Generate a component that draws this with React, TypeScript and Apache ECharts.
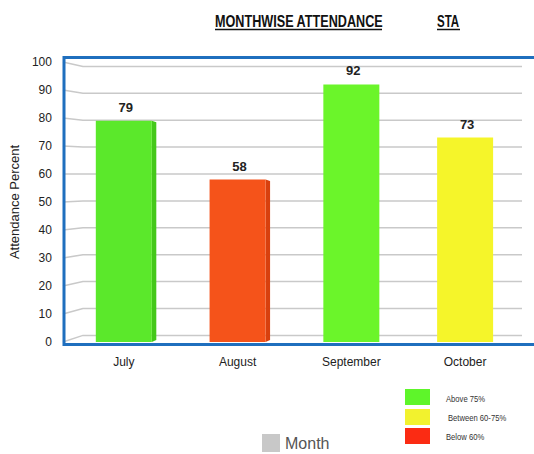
import React, { useEffect, useRef } from 'react';
import * as echarts from 'echarts';

const months = ['July', 'August', 'September', 'October'];
const attendance = [79, 58, 92, 73];
const yTicks = [0, 10, 20, 30, 40, 50, 60, 70, 80, 90, 100];
const keyLabels = ['Above 75%', 'Between 60-75%', 'Below 60%'];
const titleText = 'MONTHWISE ATTENDANCE';
const subTitleText = 'STA';
const seriesName = 'Month';
const yAxisName = 'Attendance Percent';

const barFront = ['#5be82b', '#f5531a', '#6bf52a', '#f5f52a'];
const barSide = ['#44c81a', '#d8400e', '#58dc20', '#dcdc20'];
const keyColors = ['#5ef52a', '#f2f22e', '#fb2b13'];

const SANS = '"Liberation Sans", Arial, sans-serif';

export default function App() {
  const ref = useRef<HTMLDivElement>(null);
  useEffect(() => {
    const chart = echarts.init(ref.current!, null, { renderer: 'svg' });

    const gridRender = (params: any, api: any) => {
      const cs = params.coordSys;
      const v = api.value(1);
      const y = api.coord([0, v])[1];
      const off = (v - 60) * 0.11;
      return {
        type: 'polyline',
        silent: true,
        shape: { points: [[cs.x - 4, y], [cs.x + 16, y + off], [cs.x + cs.width, y + off]] },
        style: { stroke: '#c9c9c9', lineWidth: 1.5, fill: 'none' },
      };
    };

    const barRender = (params: any, api: any) => {
      const i = api.value(0);
      const v = api.value(1);
      const top = api.coord([i, v]);
      const base = api.coord([i, 0]);
      const cx = top[0];
      const half = 28;
      const sw = cx < 300 ? 4.5 : 0;
      const children: any[] = [];
      if (sw > 0) {
        children.push({
          type: 'polygon',
          shape: {
            points: [
              [cx + half, top[1]],
              [cx + half + sw, top[1] + 1.5],
              [cx + half + sw, base[1] - 2],
              [cx + half, base[1]],
            ],
          },
          style: { fill: barSide[i] },
        });
      }
      children.push({
        type: 'rect',
        shape: { x: cx - half, y: top[1], width: half * 2, height: base[1] - top[1] },
        style: { fill: barFront[i] },
      });
      children.push({
        type: 'text',
        x: cx + 2,
        y: top[1] - 7,
        style: {
          text: String(v),
          fill: '#222',
          font: `bold 13px ${SANS}`,
          textAlign: 'center',
          textVerticalAlign: 'bottom',
        },
      });
      return { type: 'group', children };
    };

    const graphic: any[] = [
      {
        type: 'rect',
        z: 100,
        silent: true,
        shape: { x: 64, y: 57.5, width: 490, height: 287 },
        style: { fill: 'none', stroke: '#1f6fbe', lineWidth: 3 },
      },
      {
        type: 'text',
        x: 215,
        y: 21,
        scaleX: 0.79,
        style: {
          text: titleText,
          fill: '#111',
          font: `bold 16px ${SANS}`,
          textVerticalAlign: 'middle',
        },
      },
      {
        type: 'text',
        x: 437,
        y: 21,
        scaleX: 0.72,
        style: {
          text: subTitleText,
          fill: '#111',
          font: `bold 16px ${SANS}`,
          textVerticalAlign: 'middle',
        },
      },
      {
        type: 'line',
        shape: { x1: 215, y1: 29.5, x2: 382, y2: 29.5 },
        style: { stroke: '#111', lineWidth: 1.5 },
      },
      {
        type: 'line',
        shape: { x1: 437, y1: 29.5, x2: 460, y2: 29.5 },
        style: { stroke: '#111', lineWidth: 1.5 },
      },
    ];
    const boxY = [389, 409, 428];
    const textY = [399, 418, 437];
    const textX = [446, 448, 446];
    keyLabels.forEach((lab, k) => {
      graphic.push({
        type: 'rect',
        shape: { x: 405, y: boxY[k], width: 25, height: 16 },
        style: { fill: keyColors[k] },
      });
      graphic.push({
        type: 'text',
        x: textX[k],
        y: textY[k],
        scaleX: 0.85,
        style: {
          text: lab,
          fill: '#333',
          font: `9px ${SANS}`,
          textVerticalAlign: 'middle',
        },
      });
    });

    const option: any = {
      animation: false,
      backgroundColor: '#ffffff',
      grid: { left: 66, right: 12, top: 62, bottom: 112 },
      xAxis: {
        type: 'category',
        data: months,
        axisLine: { show: false },
        axisTick: { show: false },
        splitLine: { show: false },
        axisLabel: { color: '#222', fontSize: 12, fontFamily: SANS, margin: 14 },
      },
      yAxis: {
        type: 'value',
        min: 0,
        max: 100,
        interval: 10,
        name: yAxisName,
        nameLocation: 'middle',
        nameGap: 45,
        nameTextStyle: { color: '#222', fontSize: 13, fontFamily: SANS },
        axisLine: { show: false },
        axisTick: { show: false },
        splitLine: { show: false },
        axisLabel: { color: '#222', fontSize: 12, fontFamily: SANS, margin: 15 },
      },
      legend: {
        data: [seriesName],
        left: 262,
        top: 434,
        icon: 'rect',
        itemWidth: 18,
        itemHeight: 18,
        itemGap: 6,
        padding: 0,
        textStyle: { color: '#555', fontSize: 16, lineHeight: 16, fontFamily: SANS },
      },
      series: [
        {
          type: 'custom',
          name: 'gridlines',
          silent: true,
          z: 1,
          data: yTicks.map((v) => [0, v]),
          renderItem: gridRender,
        },
        {
          type: 'custom',
          name: seriesName,
          z: 3,
          itemStyle: { color: '#c8c8c8' },
          data: attendance.map((v, i) => [i, v]),
          encode: { x: 0, y: 1 },
          renderItem: barRender,
        },
      ],
      graphic,
    };
    chart.setOption(option);
    return () => chart.dispose();
  }, []);
  return <div ref={ref} style={{ width: 534, height: 454, position: 'absolute', left: 0, top: 0 }} />;
}
